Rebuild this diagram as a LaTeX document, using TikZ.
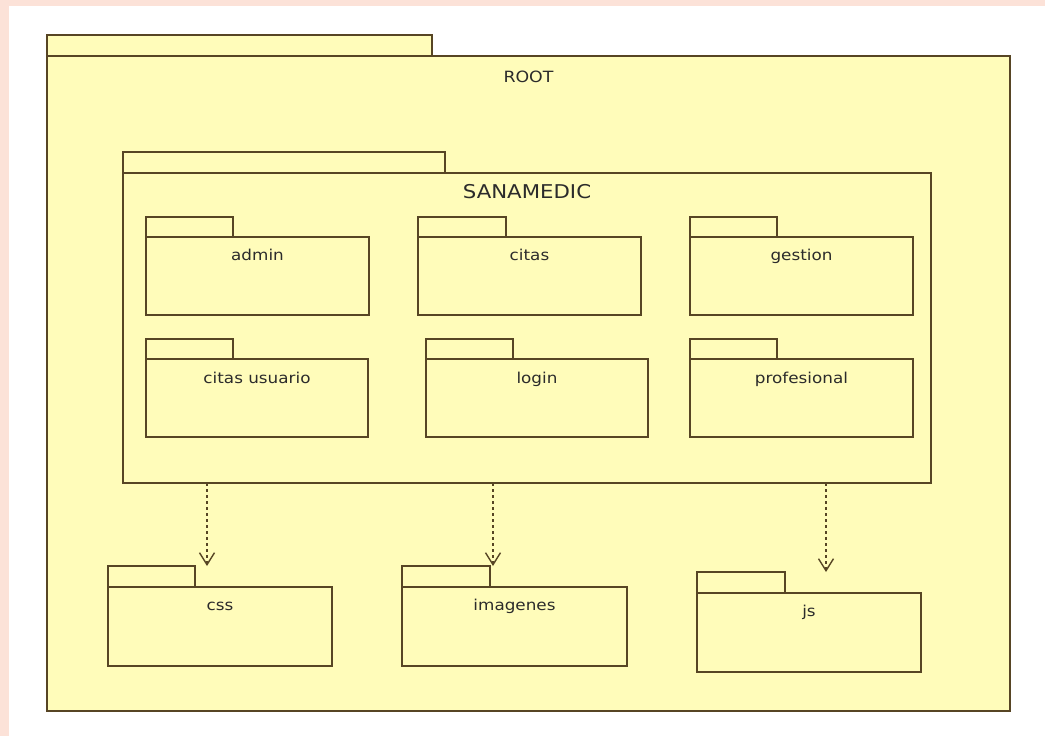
\documentclass[tikz,border=0pt]{standalone}
\usepackage{fontspec}
\setmainfont[FakeStretch=1.12]{DejaVu Sans}
\usetikzlibrary{arrows.meta}
\definecolor{pinkbg}{HTML}{FCE2D8}
\definecolor{pkgfill}{HTML}{FFFCBA}
\definecolor{pkgline}{HTML}{574524}
\definecolor{txt}{HTML}{2B2B2B}
\tikzset{
  pkg/.style={draw=pkgline, fill=pkgfill, line width=1.6pt, inner sep=0pt, outer sep=0pt, anchor=north west},
  lbl/.style={text=txt, font=\fontsize{15}{18}\selectfont, anchor=base, inner sep=0pt},
  biglbl/.style={text=txt, font=\fontsize{19}{22}\selectfont, anchor=base, inner sep=0pt},
  rootlbl/.style={text=txt, font=\fontsize{15.5}{18}\selectfont, anchor=base, inner sep=0pt},
  dep/.style={draw=pkgline, line width=1.5pt, dash pattern=on 3.3pt off 2.7pt, -{Straight Barb[length=12pt,width=15pt,line width=1.4pt]}}
}
\begin{document}
\begin{tikzpicture}[x=1pt,y=-1pt]
\useasboundingbox (0,0) rectangle (1045,736);
\fill[pinkbg] (0,0) rectangle (1045,736);
\fill[white] (9,6) rectangle (1045,736);
% ROOT
\node[pkg, minimum width=385, minimum height=21] (roottab) at (47,35) {};
\node[pkg, minimum width=963, minimum height=655] (root) at (47,56) {};
\node[rootlbl] (rootl) at ([yshift=-26pt]root.north) {ROOT};
% SANAMEDIC
\node[pkg, minimum width=322, minimum height=21] (santab) at (123,152) {};
\node[pkg, minimum width=808, minimum height=310] (san) at (123,173) {};
\node[biglbl] (sanl) at ([yshift=-25pt]san.north) {SANAMEDIC};
% row 1
\node[pkg, minimum width=87, minimum height=20] (admintab) at (146,217) {};
\node[pkg, minimum width=223, minimum height=78] (admin) at (146,237) {};
\node[lbl] (adminl) at ([yshift=-23pt]admin.north) {admin};
\node[pkg, minimum width=88, minimum height=20] (citastab) at (418,217) {};
\node[pkg, minimum width=223, minimum height=78] (citas) at (418,237) {};
\node[lbl] (citasl) at ([yshift=-23pt]citas.north) {citas};
\node[pkg, minimum width=87, minimum height=20] (gestiontab) at (690,217) {};
\node[pkg, minimum width=223, minimum height=78] (gestion) at (690,237) {};
\node[lbl] (gestionl) at ([yshift=-23pt]gestion.north) {gestion};
% row 2
\node[pkg, minimum width=87, minimum height=20] (cusutab) at (146,339) {};
\node[pkg, minimum width=222, minimum height=78] (cusu) at (146,359) {};
\node[lbl] (cusul) at ([yshift=-24pt]cusu.north) {citas usuario};
\node[pkg, minimum width=87, minimum height=20] (logintab) at (426,339) {};
\node[pkg, minimum width=222, minimum height=78] (login) at (426,359) {};
\node[lbl] (loginl) at ([yshift=-24pt]login.north) {login};
\node[pkg, minimum width=87, minimum height=20] (proftab) at (690,339) {};
\node[pkg, minimum width=223, minimum height=78] (prof) at (690,359) {};
\node[lbl] (profl) at ([yshift=-24pt]prof.north) {profesional};
% bottom row
\node[pkg, minimum width=87, minimum height=21] (csstab) at (108,566) {};
\node[pkg, minimum width=224, minimum height=79] (css) at (108,587) {};
\node[lbl] (cssl) at ([yshift=-23pt]css.north) {css};
\node[pkg, minimum width=88, minimum height=21] (imgtab) at (402,566) {};
\node[pkg, minimum width=225, minimum height=79] (img) at (402,587) {};
\node[lbl] (imgl) at ([yshift=-23pt]img.north) {imagenes};
\node[pkg, minimum width=88, minimum height=21] (jstab) at (697,572) {};
\node[pkg, minimum width=224, minimum height=79] (js) at (697,593) {};
\node[lbl] (jsl) at ([yshift=-23pt]js.north) {js};
% dependencies
\coordinate (d1s) at (207,483);
\coordinate (d1e) at (207,566);
\coordinate (d2s) at (493,483);
\coordinate (d2e) at (493,566);
\coordinate (d3s) at (826,483);
\coordinate (d3e) at (826,572);
\draw[dep] (d1s) -- (d1e);
\draw[dep] (d2s) -- (d2e);
\draw[dep] (d3s) -- (d3e);
\end{tikzpicture}
\end{document}
